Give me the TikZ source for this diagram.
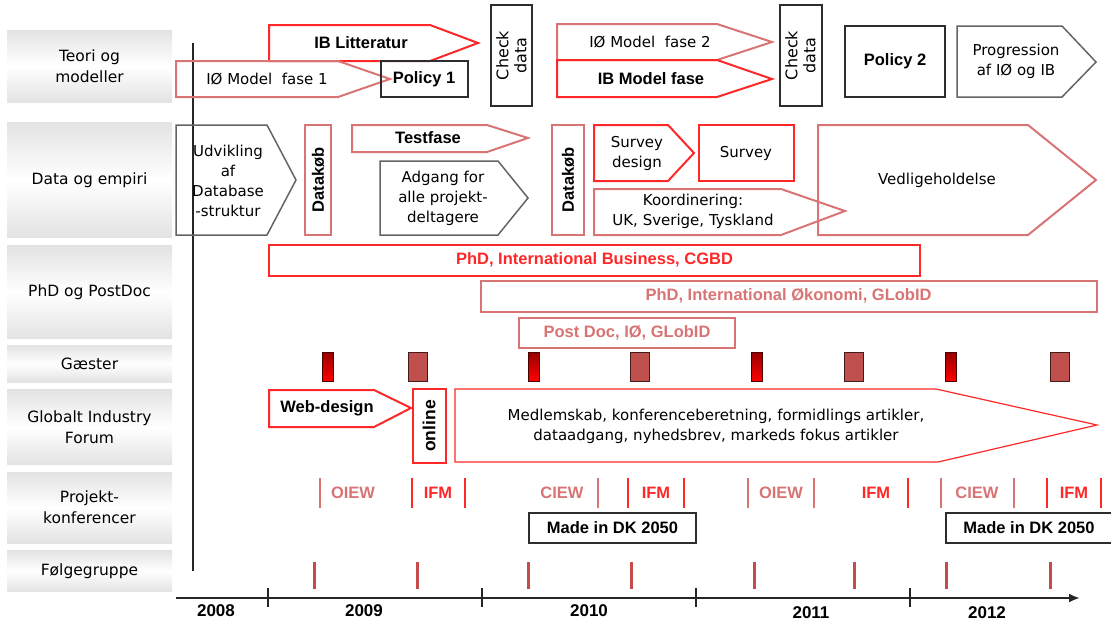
\documentclass[tikz,border=0pt]{standalone}
\usepackage{fontspec}
\setmainfont{DejaVu Sans}
\newfontfamily\labelfont{Liberation Sans}
\usetikzlibrary{positioning, arrows.meta}

\definecolor{ibred}{RGB}{255,40,40}
\definecolor{iored}{RGB}{216,116,116}
\definecolor{boxgray}{RGB}{45,45,45}
\definecolor{stepgray}{RGB}{100,100,100}
\definecolor{guestred}{RGB}{192,80,77}
\definecolor{followred}{RGB}{200,75,75}

\begin{document}
\begin{tikzpicture}[
    x=1pt, y=-1pt,
    every node/.style={inner sep=0pt, align=center, font=\fontsize{15}{20}\selectfont},
    rowlabel/.style={minimum width=165pt, top color=gray!22, bottom color=gray!22,
        middle color=white, font=\fontsize{15.5}{21}\selectfont},
    boldtext/.style={font=\labelfont\bfseries\fontsize{16.5}{20}\selectfont},
    yeartext/.style={font=\labelfont\bfseries\fontsize{17}{20}\selectfont},
    ibline/.style={draw=ibred, line width=2pt},
    ioline/.style={draw=iored, line width=2pt},
    policybox/.style={draw=boxgray, line width=2pt},
    grayline/.style={draw=stepgray, line width=1.5pt},
    thinguest/.style={draw=black!70!red, line width=1pt, top color=red!60!black,
        bottom color=red, minimum width=11pt, minimum height=29pt},
    wideguest/.style={draw=black!65!guestred, line width=1pt, fill=guestred,
        minimum width=19pt, minimum height=29pt},
    iebar/.style={draw=iored, line width=2.5pt},
    ifmbar/.style={draw=ibred, line width=2.5pt},
    followbar/.style={draw=followred, line width=3pt},
    axisline/.style={draw=black!85, line width=2.5pt}
]
\useasboundingbox (0,0) rectangle (1111,622);

% Row labels
\node[rowlabel, minimum height=72pt] (teori) at (89.5,66) {Teori og\\modeller};
\node[rowlabel, minimum height=115pt, below=20pt of teori] (data) {Data og empiri};
\node[rowlabel, minimum height=93pt, below=8pt of data] (phd) {PhD og PostDoc};
\node[rowlabel, minimum height=37pt, below=6pt of phd] (guests) {Gæster};
\node[rowlabel, minimum height=75pt, below=7pt of guests] (forum) {Globalt Industry\\Forum};
\node[rowlabel, minimum height=71pt, below=7pt of forum] (konf) {Projekt-\\konferencer};
\node[rowlabel, minimum height=41pt, below=7pt of konf] (follow) {Følgegruppe};

% Time axes
\draw[axisline] (193,43) -- (193,571);
\draw[axisline, -{Latex[length=11pt,width=9pt]}] (176,598) -- (1080,598);
\foreach \x in {268,482,696,910}
    \draw[axisline] (\x,588) -- (\x,607);
\node[yeartext] (y2008) at (216,611) {2008};
\node[yeartext] (y2009) at (364,611) {2009};
\node[yeartext] (y2010) at (589,611) {2010};
\node[yeartext] (y2011) at (811,613) {2011};
\node[yeartext] (y2012) at (987,613) {2012};

% Teori og modeller
\draw[ibline] (269,25) -- (430,25) -- (478,43) -- (430,61) -- (269,61) -- cycle;
\node[boldtext] (iblit) at (361,43) {IB Litteratur};
\draw[ioline] (176,61) -- (338,61) -- (390,79) -- (338,97) -- (176,97) -- cycle;
\node (iofase1) at (267,79) {IØ Model\ \ fase 1};
\node[policybox, minimum width=87pt, minimum height=36pt, boldtext] (policy1) at (424,79) {Policy 1};
\node[policybox, rotate=90, minimum width=101pt, minimum height=41pt,
    font=\fontsize{16}{18}\selectfont] (check1) at (511.5,55.5) {Check\\data};
\draw[ioline] (557,24) -- (717,24) -- (772,42) -- (717,60) -- (557,60) -- cycle;
\node (iofase2) at (650,42) {IØ Model\ \ fase 2};
\draw[ibline] (557,60) -- (717,60) -- (772,79) -- (717,97) -- (557,97) -- cycle;
\node[boldtext] (ibfase) at (651,79) {IB Model fase};
\node[policybox, rotate=90, minimum width=101pt, minimum height=42pt,
    font=\fontsize{16}{18}\selectfont] (check2) at (800.5,55.5) {Check\\data};
\node[policybox, minimum width=100pt, minimum height=71pt, boldtext] (policy2) at (895,61.5) {Policy 2};
\draw[grayline] (957,26) -- (1062,26) -- (1096,62) -- (1062,97) -- (957,97) -- cycle;
\node (progress) at (1016,61.5) {Progression\\af IØ og IB};

% Data og empiri
\draw[grayline] (176,125) -- (267,125) -- (296,180) -- (267,235) -- (176,235) -- cycle;
\node (udvikling) at (228,181) {Udvikling\\af\\Database\\-struktur};
\node[ioline, rotate=90, minimum width=110pt, minimum height=26pt, boldtext] (datakob1) at (318,180) {Datakøb};
\draw[ioline] (352,125) -- (487,125) -- (528,138) -- (487,152) -- (352,152) -- cycle;
\node[boldtext] (testfase) at (428,138) {Testfase};
\draw[grayline] (380,161) -- (498,161) -- (528,198) -- (498,235) -- (380,235) -- cycle;
\node (adgang) at (443,198) {Adgang for\\alle projekt-\\deltagere};
\node[ioline, rotate=90, minimum width=110pt, minimum height=32pt, boldtext] (datakob2) at (568,180) {Datakøb};
\draw[ibline] (594,125) -- (668,125) -- (694,153) -- (668,181) -- (594,181) -- cycle;
\node (surveydesign) at (637,153) {Survey\\design};
\node[ibline, minimum width=95pt, minimum height=56pt] (survey) at (746,153) {Survey};
\draw[ioline] (594,189) -- (781,189) -- (845,211) -- (781,235) -- (594,235) -- cycle;
\node (koord) at (693,211.5) {Koordinering:\\UK, Sverige, Tyskland};
\draw[ioline] (818,125) -- (1028,125) -- (1096,180) -- (1028,235) -- (818,235) -- cycle;
\node (vedlige) at (937,180) {Vedligeholdelse};

% PhD og PostDoc
\node[ibline, minimum width=651pt, minimum height=31pt, boldtext, text=ibred] (phdib) at (594.5,260) {PhD, International Business, CGBD};
\node[ioline, minimum width=616pt, minimum height=31pt, boldtext, text=iored] (phdio) at (788.5,296) {PhD, International Økonomi, GLobID};
\node[ioline, minimum width=216pt, minimum height=30pt, boldtext, text=iored] (postdoc) at (627,333) {Post Doc, IØ, GLobID};

% Gæster
\foreach \x in {328,534,757,951}
    \node[thinguest] (guest\x) at (\x,367) {};
\foreach \x in {418,640,854,1060}
    \node[wideguest] (guest\x) at (\x,367) {};

% Globalt Industry Forum
\draw[ibline] (269,390) -- (374,390) -- (411,408) -- (374,427) -- (269,427) -- cycle;
\node[boldtext] (webdesign) at (327,408) {Web-design};
\node[ibline, rotate=90, minimum width=74pt, minimum height=33pt, boldtext,
    font=\labelfont\bfseries\fontsize{17.5}{20}\selectfont] (online) at (429,426) {online};
\draw[draw=ibred, line width=1.2pt] (455,389) -- (936,389) -- (1097,425) -- (938,462) -- (455,462) -- cycle;
\node (medlem) at (716,426) {Medlemskab, konferenceberetning, formidlings artikler,\\dataadgang, nyhedsbrev, markeds fokus artikler};

% Projektkonferencer
\foreach \x in {320,598,748,814,941,1014}
    \draw[iebar] (\x,478) -- (\x,508);
\foreach \x in {412,465,628,684,908,1047,1101}
    \draw[ifmbar] (\x,478) -- (\x,508);
\node[boldtext, text=iored] (oiew1) at (353,493) {OIEW};
\node[boldtext, text=ibred] (ifm1) at (438,493) {IFM};
\node[boldtext, text=iored] (ciew1) at (562,493) {CIEW};
\node[boldtext, text=ibred] (ifm2) at (656,493) {IFM};
\node[boldtext, text=iored] (oiew2) at (781,493) {OIEW};
\node[boldtext, text=ibred] (ifm3) at (876,493) {IFM};
\node[boldtext, text=iored] (ciew2) at (977,493) {CIEW};
\node[boldtext, text=ibred] (ifm4) at (1074,493) {IFM};
\node[policybox, minimum width=167pt, minimum height=30pt, boldtext] (dk1) at (612.5,528) {Made in DK 2050};
\node[policybox, minimum width=166pt, minimum height=30pt, boldtext] (dk2) at (1029,528) {Made in DK 2050};

% Følgegruppe
\foreach \x in {314,417,528,631,754,854,946,1050}
    \draw[followbar] (\x,562) -- (\x,589);

\end{tikzpicture}
\end{document}
